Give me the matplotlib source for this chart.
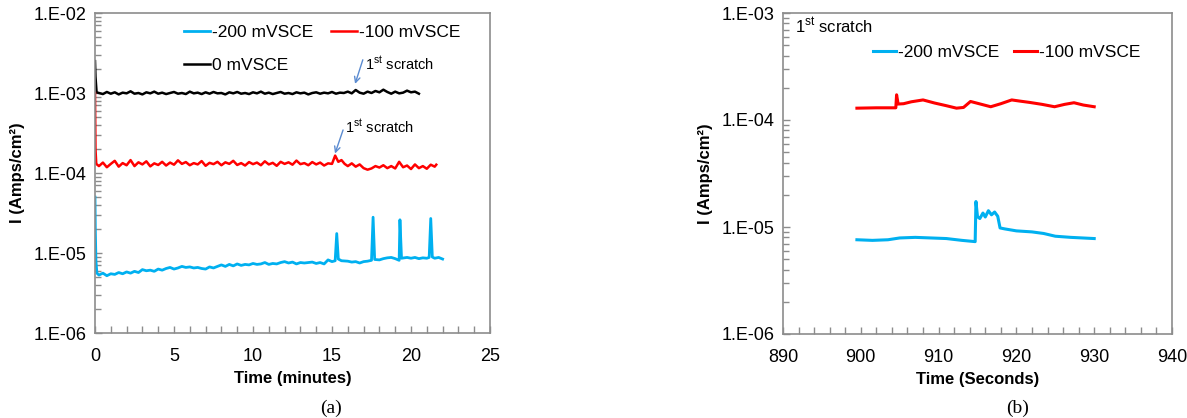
import numpy as np
import matplotlib
matplotlib.use("Agg")
import matplotlib.pyplot as plt
from matplotlib.ticker import MultipleLocator, LogLocator, FuncFormatter, NullFormatter

plt.rcParams['font.family'] = ['Liberation Sans', 'DejaVu Sans']
plt.rcParams['mathtext.fontset'] = 'custom'
plt.rcParams['mathtext.rm'] = 'Liberation Sans'
plt.rcParams['mathtext.bf'] = 'Liberation Sans:bold'

# ---- panel (a): current vs time in minutes ----
t_0mv = [0, 0.03, 0.1,
         0.25, 0.5, 0.75, 1.0, 1.25, 1.5, 1.75, 2.0, 2.25, 2.5, 2.75, 3.0, 3.25, 3.5, 3.75, 4.0,
         4.25, 4.5, 4.75, 5.0, 5.25, 5.5, 5.75, 6.0, 6.25, 6.5, 6.75, 7.0, 7.25, 7.5, 7.75, 8.0,
         8.25, 8.5, 8.75, 9.0, 9.25, 9.5, 9.75, 10.0, 10.25, 10.5, 10.75, 11.0, 11.25, 11.5, 11.75,
         12.0, 12.25, 12.5, 12.75, 13.0, 13.25, 13.5, 13.75, 14.0, 14.25, 14.5, 14.75, 15.0,
         15.25, 15.5, 15.75, 16.0, 16.25, 16.5, 16.75, 17.0, 17.25, 17.5, 17.75, 18.0, 18.25,
         18.5, 18.75, 19.0, 19.25, 19.5, 19.75, 20.0, 20.25, 20.5]
i_0mv = [2.5, 1.6, 1.02,
         1.00, 0.97, 1.03, 0.98, 1.02, 0.96, 1.01, 0.99, 1.05, 0.98, 1.00, 0.96, 1.02, 0.99, 1.04, 0.98,
         1.01, 0.97, 1.00, 1.03, 0.98, 1.00, 0.97, 1.04, 0.99, 1.01, 0.97, 1.02, 0.98, 1.03, 0.99, 1.00,
         0.96, 1.02, 0.99, 1.03, 0.98, 1.00, 0.97, 1.02, 0.99, 1.04, 0.98, 1.01, 0.97, 1.00, 1.03,
         0.98, 1.00, 0.97, 1.02, 0.99, 1.01, 0.96, 1.00, 1.02, 0.98, 1.01, 0.99, 1.03,
         0.98, 1.01, 1.00, 1.04, 0.99, 1.09, 1.01, 0.98, 1.04, 1.00, 1.06, 1.02, 1.10,
         1.03, 0.98, 1.04, 0.99, 1.01, 1.07, 1.02, 1.04, 0.98]  # x 1e-3

t_100mv = [0, 0.03, 0.08,
           0.25, 0.5, 0.75, 1.0, 1.25, 1.5, 1.75, 2.0, 2.25, 2.5, 2.75, 3.0, 3.25, 3.5, 3.75, 4.0,
           4.25, 4.5, 4.75, 5.0, 5.25, 5.5, 5.75, 6.0, 6.25, 6.5, 6.75, 7.0, 7.25, 7.5, 7.75, 8.0,
           8.25, 8.5, 8.75, 9.0, 9.25, 9.5, 9.75, 10.0, 10.25, 10.5, 10.75, 11.0, 11.25, 11.5, 11.75,
           12.0, 12.25, 12.5, 12.75, 13.0, 13.25, 13.5, 13.75, 14.0, 14.25, 14.5, 14.75, 15.0,
           15.2, 15.4, 15.6, 15.8, 16.0, 16.25, 16.5, 16.75, 17.0, 17.25, 17.5, 17.75, 18.0,
           18.25, 18.5, 18.75, 19.0, 19.25, 19.5, 19.75, 20.0, 20.25, 20.5, 20.75, 21.0, 21.25,
           21.5, 21.6]
i_100mv = [10.0, 2.0, 1.3,
           1.22, 1.35, 1.18, 1.30, 1.42, 1.20, 1.33, 1.25, 1.45, 1.22, 1.36, 1.28, 1.40, 1.21, 1.32, 1.26,
           1.38, 1.24, 1.35, 1.27, 1.44, 1.30, 1.37, 1.25, 1.33, 1.28, 1.41, 1.23, 1.34, 1.29, 1.38, 1.25,
           1.36, 1.30, 1.42, 1.26, 1.33, 1.24, 1.37, 1.29, 1.35, 1.25, 1.40, 1.28, 1.34, 1.23, 1.38,
           1.30, 1.36, 1.27, 1.43, 1.29, 1.33, 1.25, 1.37, 1.28, 1.35, 1.24, 1.32, 1.30,
           1.65, 1.38, 1.45, 1.30, 1.22, 1.32, 1.20, 1.28, 1.15, 1.10, 1.14, 1.22, 1.17,
           1.25, 1.15, 1.22, 1.14, 1.38, 1.18, 1.24, 1.12, 1.28, 1.15, 1.22, 1.13, 1.27,
           1.20, 1.27]  # x 1e-4

t_200mv = [0, 0.02, 0.06, 0.12,
           0.25, 0.5, 0.75, 1.0, 1.25, 1.5, 1.75, 2.0, 2.25, 2.5, 2.75, 3.0, 3.25, 3.5, 3.75, 4.0,
           4.25, 4.5, 4.75, 5.0, 5.25, 5.5, 5.75, 6.0, 6.25, 6.5, 6.75, 7.0, 7.25, 7.5, 7.75, 8.0,
           8.25, 8.5, 8.75, 9.0, 9.25, 9.5, 9.75, 10.0, 10.25, 10.5, 10.75, 11.0, 11.25, 11.5, 11.75,
           12.0, 12.25, 12.5, 12.75, 13.0, 13.25, 13.75, 14.0, 14.25, 14.5, 14.75, 15.0,
           15.2, 15.3, 15.4, 15.6, 16.0, 16.25, 16.5, 16.75, 17.0, 17.25, 17.5, 17.6, 17.7,
           18.0, 18.25, 18.5, 18.75, 19.0, 19.25, 19.3, 19.4, 19.75, 20.0, 20.25, 20.5, 20.75,
           21.0, 21.15, 21.25, 21.35, 21.5, 21.75, 22.0]
i_200mv = [50, 20, 8, 5.6,
           5.3, 5.6, 5.2, 5.5, 5.4, 5.7, 5.5, 5.8, 5.6, 5.9, 5.7, 6.2, 6.0, 6.1, 5.9, 6.3,
           6.1, 6.4, 6.6, 6.3, 6.5, 6.8, 6.6, 6.7, 6.5, 6.6, 6.4, 6.3, 6.7, 6.5, 6.8, 7.1,
           6.8, 7.2, 6.9, 7.3, 7.0, 7.2, 7.1, 7.4, 7.2, 7.3, 7.6, 7.2, 7.4, 7.3, 7.6,
           7.8, 7.5, 7.7, 7.3, 7.6, 7.5, 7.7, 7.4, 7.6, 7.3, 8.2, 7.8,
           8.0, 17.5, 8.4, 8.0, 7.9, 7.7, 7.8, 7.5, 7.8, 7.9, 8.1, 28, 8.3,
           8.2, 8.5, 8.7, 8.8, 8.5, 8.1, 26, 8.6, 8.8, 8.6, 8.8, 8.5, 8.7,
           8.6, 8.8, 27, 8.9, 8.6, 8.8, 8.4]  # x 1e-6

# ---- panel (b): zoom on the first scratch, time in seconds ----
t_b_100mv = [899.5, 902.0, 904.5, 904.6, 904.8, 905.5, 906.5, 908.0, 909.5, 911.0, 912.3,
             913.2, 914.1, 915.2, 916.7, 918.0, 919.4, 920.5, 921.7, 923.3, 924.9, 926.2,
             927.4, 928.6, 930.0]
i_b_100mv = [1.29, 1.30, 1.30, 1.72, 1.41, 1.42, 1.48, 1.54, 1.44, 1.36, 1.29,
             1.31, 1.49, 1.42, 1.33, 1.42, 1.54, 1.50, 1.46, 1.40, 1.33, 1.40,
             1.45, 1.38, 1.33]  # x 1e-4

t_b_200mv = [899.5, 901.5, 903.5, 905.0, 907.0, 909.0, 911.0, 913.0, 914.7, 914.8, 915.0,
             915.3, 915.7, 916.0, 916.4, 916.8, 917.2, 917.6, 917.9, 918.5, 920.0, 922.0,
             923.5, 925.0, 927.0, 930.0]
i_b_200mv = [7.6, 7.5, 7.6, 7.9, 8.0, 7.9, 7.8, 7.5, 7.3, 17.3, 12.5,
             12.0, 13.5, 12.4, 14.2, 13.0, 13.8, 12.6, 9.8, 9.6, 9.2, 9.0,
             8.7, 8.2, 8.0, 7.8]  # x 1e-6

BLUE = '#00B0F0'
RED = '#FF0000'
ARROW = '#5B8BD0'
SPINE = '#8C8C8C'
SCRATCH = r'1$^{\rm st}$ scratch'


def log_label(v, pos):
    e = int(round(np.log10(v)))
    return f"1.E{'-' if e < 0 else '+'}{abs(e):02d}"


def style_axes(ax, xmin, xmax, xmajor, xminor, ymin, ymax):
    ax.set_yscale('log')
    ax.set_xlim(xmin, xmax)
    ax.set_ylim(ymin, ymax)
    ax.xaxis.set_major_locator(MultipleLocator(xmajor))
    ax.xaxis.set_minor_locator(MultipleLocator(xminor))
    ax.yaxis.set_major_locator(LogLocator(base=10))
    ax.yaxis.set_minor_locator(LogLocator(base=10, subs=np.arange(2, 10)))
    ax.yaxis.set_major_formatter(FuncFormatter(log_label))
    ax.yaxis.set_minor_formatter(NullFormatter())
    ax.tick_params(which='both', direction='in', top=False, right=False,
                   color=SPINE, labelsize=13, length=5, width=1)
    ax.tick_params(axis='y', which='minor', length=4)
    ax.tick_params(axis='x', pad=11)
    ax.tick_params(axis='y', pad=6)
    for s in ax.spines.values():
        s.set_color(SPINE)
        s.set_linewidth(1.2)
    ax.set_ylabel('I (Amps/cm²)', fontsize=12, fontweight='bold', labelpad=6)


def scratch_note(ax, tip, tail, text_at):
    ax.annotate('', xy=tip, xytext=tail,
                arrowprops=dict(arrowstyle='->', color=ARROW, lw=1, shrinkA=0, shrinkB=0))
    ax.text(text_at[0], text_at[1], SCRATCH, fontsize=10.5, va='center', ha='left')


fig = plt.figure(figsize=(11.87, 4.18), dpi=100)
W, H = 1187, 418
ax1 = fig.add_axes([95 / W, (H - 333) / H, 395 / W, 320 / H])
ax2 = fig.add_axes([783 / W, (H - 334) / H, 389 / W, 321 / H])

# panel (a)
ax1.plot(t_200mv, np.array(i_200mv) * 1e-6, color=BLUE, lw=2, label='-200 mVSCE')
ax1.plot(t_0mv, np.array(i_0mv) * 1e-3, color='black', lw=1.8, label='0 mVSCE')
ax1.plot(t_100mv, np.array(i_100mv) * 1e-4, color=RED, lw=1.8, label='-100 mVSCE')
style_axes(ax1, 0, 25, 5, 1, 1e-6, 1e-2)
ax1.set_xlabel('Time (minutes)', fontsize=12, fontweight='bold', labelpad=4)
ax1.legend(loc='upper left', bbox_to_anchor=(0.2, 0.995), ncol=2, frameon=False,
           fontsize=12.5, handlelength=1.5, handletextpad=0.1, columnspacing=1.0,
           labelspacing=1.0, borderaxespad=0.2)

scratch_note(ax1, tip=(16.46, 1.3e-3), tail=(16.95, 2.6e-3), text_at=(17.1, 2.25e-3))
scratch_note(ax1, tip=(15.19, 1.75e-4), tail=(15.7, 3.45e-4), text_at=(15.85, 3.7e-4))

# panel (b)
ax2.plot(t_b_200mv, np.array(i_b_200mv) * 1e-6, color=BLUE, lw=2.2, label='-200 mVSCE')
ax2.plot(t_b_100mv, np.array(i_b_100mv) * 1e-4, color=RED, lw=2.2, label='-100 mVSCE')
style_axes(ax2, 890, 940, 10, 2, 1e-6, 1e-3)
ax2.set_xlabel('Time (Seconds)', fontsize=12, fontweight='bold', labelpad=4)
ax2.legend(loc='upper left', bbox_to_anchor=(0.192, 0.95), ncol=2, frameon=False,
           fontsize=12.5, handlelength=1.3, handletextpad=0.1, columnspacing=0.9)
ax2.text(0.03, 0.99, SCRATCH, transform=ax2.transAxes,
         fontsize=12, va='top', ha='left')

fig.text(331 / W, 1 - 408 / H, '(a)', fontsize=14, family='Liberation Serif',
         ha='center', va='center')
fig.text(1018 / W, 1 - 408 / H, '(b)', fontsize=14, family='Liberation Serif',
         ha='center', va='center')

fig.savefig('out.png', dpi=100)
